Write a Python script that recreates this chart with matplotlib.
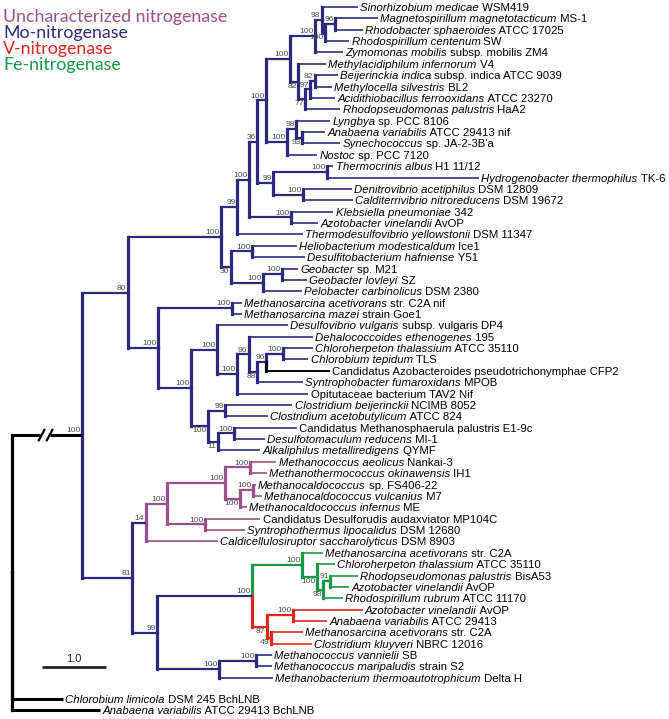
import matplotlib
matplotlib.use('Agg')
import matplotlib.pyplot as plt

# ---------------- data ----------------
leaf_italic = [
    "Sinorhizobium medicae", "Magnetospirillum magnetotacticum", "Rhodobacter sphaeroides",
    "Rhodospirillum centenum", "Zymomonas mobilis", "Methylacidiphilum infernorum",
    "Beijerinckia indica", "Methylocella silvestris", "Acidithiobacillus ferrooxidans",
    "Rhodopseudomonas palustris", "Lyngbya", "Anabaena variabilis", "Synechococcus",
    "Nostoc", "Thermocrinis albus", "Hydrogenobacter thermophilus", "Denitrovibrio acetiphilus",
    "Calditerrivibrio nitroreducens", "Klebsiella pneumoniae", "Azotobacter vinelandii",
    "Thermodesulfovibrio yellowstonii", "Heliobacterium modesticaldum", "Desulfitobacterium hafniense",
    "Geobacter", "Geobacter lovleyi", "Pelobacter carbinolicus", "Methanosarcina acetivorans",
    "Methanosarcina mazei", "Desulfovibrio vulgaris", "Dehalococcoides ethenogenes",
    "Chloroherpeton thalassium", "Chlorobium tepidum", "", "Syntrophobacter fumaroxidans", "",
    "Clostridium beijerinckii", "Clostridium acetobutylicum", "", "Desulfotomaculum reducens",
    "Alkaliphilus metalliredigens", "Methanococcus aeolicus", "Methanothermococcus okinawensis",
    "Methanocaldococcus", "Methanocaldococcus vulcanius", "Methanocaldococcus infernus", "",
    "Syntrophothermus lipocalidus", "Caldicellulosiruptor saccharolyticus",
    "Methanosarcina acetivorans", "Chloroherpeton thalassium", "Rhodopseudomonas palustris",
    "Azotobacter vinelandii", "Rhodospirillum rubrum", "Azotobacter vinelandii",
    "Anabaena variabilis", "Methanosarcina acetivorans", "Clostridium kluyveri",
    "Methanococcus vannielii", "Methanococcus maripaludis", "Methanobacterium thermoautotrophicum",
    "Chlorobium limicola", "Anabaena variabilis",
]
leaf_plain = [
    " WSM419", " MS-1", " ATCC 17025", " SW", " subsp. mobilis ZM4", " V4",
    " subsp. indica ATCC 9039", " BL2", " ATCC 23270", " HaA2", " sp. PCC 8106",
    " ATCC 29413 nif", " sp. JA-2-3B'a", " sp. PCC 7120", " H1 11/12", " TK-6", " DSM 12809",
    " DSM 19672", " 342", " AvOP", " DSM 11347", " Ice1", " Y51", " sp. M21", " SZ",
    " DSM 2380", " str. C2A nif", " strain Goe1", " subsp. vulgaris DP4", " 195",
    " ATCC 35110", " TLS", "Candidatus Azobacteroides pseudotrichonymphae CFP2", " MPOB",
    "Opitutaceae bacterium TAV2 Nif", " NCIMB 8052", " ATCC 824",
    "Candidatus Methanosphaerula palustris E1-9c", " MI-1", " QYMF", " Nankai-3", " IH1",
    " sp. FS406-22", " M7", " ME", "Candidatus Desulforudis audaxviator MP104C", " DSM 12680",
    " DSM 8903", " str. C2A", " ATCC 35110", " BisA53", " AvOP", " ATCC 11170", " AvOP",
    " ATCC 29413", " str. C2A", " NBRC 12016", " SB", " strain S2", " Delta H",
    " DSM 245 BchLNB", " ATCC 29413 BchLNB",
]
# tip depth (substitutions per site, as drawn)
leaf_depth = [
    5.41, 5.72, 5.48, 5.27, 5.17, 4.91, 5.09, 5.00, 5.05, 5.13,
    4.97, 4.89, 5.13, 4.77, 5.02, 7.30, 5.31, 5.33, 5.02, 4.78,
    4.55, 4.45, 4.58, 4.47, 4.61, 4.53, 3.59, 3.59, 4.31, 4.70,
    4.70, 4.63, 4.97, 4.55, 4.63, 4.38, 4.00, 4.45, 3.95, 3.88,
    4.13, 3.98, 3.81, 3.91, 3.67, 3.88, 3.64, 3.22, 4.86, 5.05,
    5.41, 5.27, 5.17, 5.48, 4.92, 4.55, 4.69, 4.06, 4.06, 4.08,
    0.80, 1.38,
]
leaf_group = (["Mo"] * 32 + ["Out"] + ["Mo"] * 7 + ["Un"] * 8 + ["Fe"] * 5 + ["V"] * 4
              + ["Mo"] * 3 + ["Out"] * 2)
leaf_row = list(range(60)) + [60.85, 61.82]

node_ids = ["a1", "a2", "a3", "a4", "b1", "b2", "b3", "b4", "a5", "c1", "c2", "c3", "a6",
            "d1", "d2", "d3", "a7", "e1", "a8", "a9", "f1", "f2", "f3", "f4", "a10", "g1",
            "h1", "h2", "h3", "h4", "h5", "h6", "i1", "i2", "i3", "i4", "h7", "g2", "a11",
            "j1", "j2", "j3", "j4", "j5", "j6", "j7", "k1", "k2", "k3", "k4", "v1", "v2",
            "v3", "vf", "m1", "m2", "m3", "m4", "nif", "root"]
node_children = [
    ["L1", "L2"], ["a1", "L3"], ["L0", "a2"], ["a3", "L4"],
    ["L6", "L7"], ["b1", "L8"], ["b2", "L9"], ["L5", "b3"], ["a4", "b4"],
    ["L11", "L12"], ["L10", "c1"], ["c2", "L13"], ["a5", "c3"],
    ["L14", "L15"], ["L16", "L17"], ["d1", "d2"], ["a6", "d3"], ["L18", "L19"],
    ["a7", "e1"], ["a8", "L20"], ["L21", "L22"], ["L23", "L24"], ["f2", "L25"],
    ["f1", "f3"], ["a9", "f4"], ["L26", "L27"],
    ["L30", "L31"], ["h1", "L32"], ["h2", "L33"], ["L29", "h3"], ["h4", "L34"],
    ["L28", "h5"], ["L35", "L36"], ["L37", "L38"], ["i2", "L39"], ["i1", "i3"],
    ["h6", "i4"], ["g1", "h7"], ["a10", "g2"],
    ["L40", "L41"], ["L42", "L43"], ["j2", "L44"], ["j1", "j3"], ["L45", "L46"],
    ["j4", "j5"], ["j6", "L47"],
    ["L50", "L51"], ["k1", "L52"], ["L49", "k2"], ["L48", "k3"],
    ["L53", "L54"], ["L55", "L56"], ["v1", "v2"], ["k4", "v3"],
    ["L57", "L58"], ["m1", "L59"], ["vf", "m2"], ["j7", "m3"],
    ["a11", "m4"], ["nif", "L60", "L61"],
]
node_depth = [5.05, 4.89, 4.84, 4.73, 4.73, 4.66, 4.58, 4.47, 4.34, 4.53, 4.44, 4.30, 3.97,
              4.92, 4.55, 4.08, 3.83, 4.36, 3.70, 3.52, 3.75, 4.22, 3.92, 3.42, 3.27, 3.44,
              4.23, 3.97, 3.83, 3.70, 3.52, 3.20, 3.33, 3.47, 3.22, 3.06, 2.80, 2.28, 1.81,
              3.72, 3.77, 3.56, 3.33, 3.02, 2.42, 2.09, 4.97, 4.86, 4.77, 4.53, 4.39, 4.05,
              3.98, 3.75, 3.81, 3.23, 2.27, 1.88, 1.09, 0.0]
node_support = ["96", "100", "98", "100", "82", "97", "77", "82", "100", "93", "98", "100", "100",
                "100", "100", "99", "36", "100", "100", "99", "100", "100", "100", "30", "100", "100",
                "100", "96", "88", "96", "100", "100", "99", "100", "11", "100", "100", "100", "80",
                "100", "100", "100", "100", "100", "100", "14", "91", "98", "100", "100", "100", "49",
                "87", "100", "100", "100", "99", "81", "100", ""]
node_group = (["Mo"] * 39 + ["Un"] * 6 + ["Mo"] + ["Fe"] * 4 + ["V"] * 3
              + ["Mo"] * 5 + ["Out", "Out"])
node_label_side = ["a", "b", "a", "a", "a", "a", "b", "b", "a", "b", "a", "a", "a",
                   "a", "a", "a", "a", "a", "a", "a", "a", "a", "a", "b", "a", "a",
                   "a", "a", "b", "a", "a", "a", "a", "a", "b", "b", "a", "a", "a",
                   "a", "a", "b", "a", "a", "a", "a", "a", "b", "b", "a", "a", "b",
                   "b", "a", "a", "a", "a", "a", "a", "a"]

legend_labels = ["Uncharacterized nitrogenase", "Mo-nitrogenase", "V-nitrogenase", "Fe-nitrogenase"]
legend_groups = ["Un", "Mo", "V", "Fe"]
group_color = {"Mo": "#2c2a7e", "Un": "#9c4f8e", "V": "#e2261f", "Fe": "#169a48", "Out": "#000000"}
scale_length = 1.0
broken_branch = "nif"

# ---------------- layout ----------------
W, H = 669, 719
fig = plt.figure(figsize=(W / 100, H / 100), dpi=100)
ax = fig.add_axes([0, 0, 1, 1])
px_per_unit = 64.0
root_px = 12.0
row_px = 11.37
row0_px = 7.0
ax.set_xlim(-root_px / px_per_unit, (W - root_px) / px_per_unit)
ax.set_ylim((H - row0_px) / row_px, -row0_px / row_px)
ax.axis("off")

pos = {}
grp = {}
for i in range(len(leaf_depth)):
    pos["L%d" % i] = (leaf_depth[i], leaf_row[i])
    grp["L%d" % i] = leaf_group[i]
children = dict(zip(node_ids, node_children))
depth = dict(zip(node_ids, node_depth))
for nid, g in zip(node_ids, node_group):
    grp[nid] = g


def ypos(n):
    if n in pos:
        return pos[n][1]
    ch = children[n]
    y = (ypos(ch[0]) + ypos(ch[-1])) / 2.0
    pos[n] = (depth[n], y)
    return y


ypos("root")

VLW, HLW_INT, HLW_LEAF = 2.3, 1.6, 1.2
for nid in node_ids:
    x, y = pos[nid]
    for c in children[nid]:
        cx, cy = pos[c]
        col = group_color[grp[c]]
        is_leaf = c.startswith("L")
        ax.plot([x, x], [y, cy], color=col, lw=VLW, solid_capstyle="projecting", zorder=2)
        hl = HLW_LEAF if is_leaf else HLW_INT
        if grp[c] == "Out":
            hl = 2.2 if nid == "root" else 1.4
        if c == broken_branch:
            b0, b1 = 0.44, 0.59
            ax.plot([x, b0], [cy, cy], color=col, lw=hl, solid_capstyle="butt", zorder=2)
            ax.plot([b1, cx], [cy, cy], color=col, lw=hl, solid_capstyle="butt", zorder=2)
            for sx in (0.42, 0.545):
                ax.plot([sx, sx + 0.085], [cy + 0.45, cy - 0.45], color=col, lw=1.6, zorder=3)
        else:
            ax.plot([x, cx], [cy, cy], color=col, lw=hl, solid_capstyle="butt", zorder=2)

# support values
for nid, s, side in zip(node_ids, node_support, node_label_side):
    if not s:
        continue
    x, y = pos[nid]
    if side == "a":
        ax.annotate(s, (x, y), xytext=(-1.0, 0.6), textcoords="offset points",
                    ha="right", va="bottom", fontsize=6.1, color="#4a4a4a",
                    family="Liberation Sans", zorder=4)
    else:
        ax.annotate(s, (x, y), xytext=(-1.0, -0.8), textcoords="offset points",
                    ha="right", va="top", fontsize=6.1, color="#4a4a4a",
                    family="Liberation Sans", zorder=4)

# leaf labels
fig.canvas.draw()
renderer = fig.canvas.get_renderer()
FS = 8.2
for i in range(len(leaf_depth)):
    x, y = pos["L%d" % i]
    off = 1.6
    it, pl = leaf_italic[i], leaf_plain[i]
    if it:
        t = ax.annotate(it, (x, y), xytext=(off, 0), textcoords="offset points",
                        ha="left", va="center_baseline", fontsize=FS, style="italic",
                        family="Liberation Sans", color="black")
        bb = t.get_window_extent(renderer)
        off += bb.width * 72.0 / fig.dpi
    ax.annotate(pl, (x, y), xytext=(off, 0), textcoords="offset points",
                ha="left", va="center_baseline", fontsize=FS,
                family="Liberation Sans", color="black")

# scale bar
sb_x0 = (42 - root_px) / px_per_unit
sb_row = (667 - row0_px) / row_px
ax.plot([sb_x0, sb_x0 + scale_length], [sb_row, sb_row], color="#222222", lw=2.0,
        solid_capstyle="butt")
ax.annotate("%.1f" % scale_length, (sb_x0 + scale_length / 2, sb_row), xytext=(0, 2.5),
            textcoords="offset points", ha="center", va="bottom", fontsize=8,
            family="Liberation Sans", color="#222222")

# legend text
legend_y = [17, 33, 49, 65]
for lab, g, yy in zip(legend_labels, legend_groups, legend_y):
    fig.text(3 / W, 1 - yy / H, lab, color=group_color[g], fontsize=12.8,
             family="Lato", ha="left", va="center")

fig.savefig("out.png", dpi=100)
